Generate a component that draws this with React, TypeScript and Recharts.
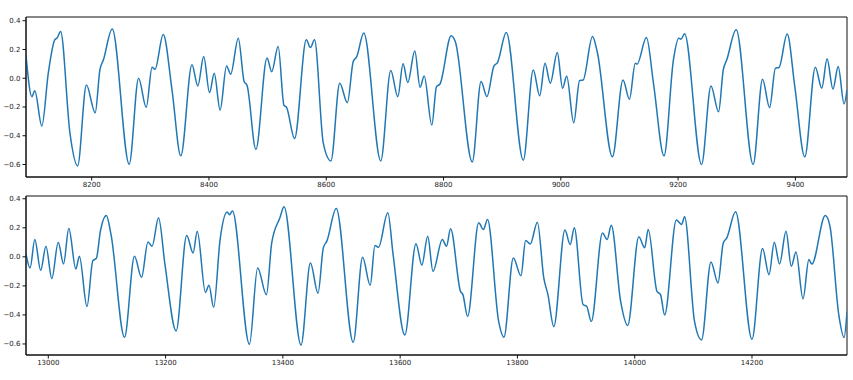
import { LineChart, Line, XAxis, YAxis, ReferenceArea } from "recharts"

// upper panel: sample index and signal value at its turning points
const topIndex = [
  8088, 8098, 8103, 8115, 8126, 8137, 8141, 8147, 8163, 8176, 8191, 8206, 8214, 8220, 8235, 8264,
  8280, 8293, 8303, 8308, 8322, 8337, 8352, 8371, 8381, 8391, 8401, 8409, 8419, 8430, 8437, 8450,
  8460, 8465, 8480, 8499, 8507, 8518, 8528, 8532, 8546, 8566, 8573, 8580, 8595, 8608, 8623, 8636,
  8646, 8652, 8664, 8693, 8710, 8722, 8731, 8739, 8751, 8760, 8767, 8780, 8788, 8794, 8813, 8820,
  8849, 8864, 8874, 8886, 8892, 8907, 8936, 8953, 8964, 8973, 8982, 8994, 9003, 9010, 9022, 9032,
  9038, 9054, 9062, 9088, 9106, 9117, 9127, 9130, 9146, 9158, 9176, 9192, 9201, 9205, 9211, 9240,
  9256, 9269, 9277, 9283, 9299, 9328, 9344, 9356, 9366, 9372, 9386, 9399, 9416, 9434, 9445, 9454,
  9464, 9473, 9483, 9488,
]
const topSignal = [
  0.16, -0.128, -0.087, -0.333, 0.035, 0.267, 0.28, 0.325, -0.384, -0.61, -0.047, -0.24, 0.058, 0.128, 0.342, -0.598,
  0.0, -0.202, 0.077, 0.062, 0.304, -0.082, -0.54, 0.093, -0.054, 0.151, -0.1, 0.035, -0.221, 0.086, 0.028, 0.279,
  -0.023, -0.05, -0.495, 0.14, 0.046, 0.22, -0.19, -0.2, -0.419, 0.267, 0.214, 0.267, -0.453, -0.575, -0.035, -0.17,
  0.116, 0.15, 0.314, -0.575, 0.053, -0.128, 0.1, -0.03, 0.19, -0.063, 0.016, -0.326, -0.058, -0.04, 0.295, 0.255,
  -0.582, -0.023, -0.128, 0.086, 0.109, 0.318, -0.57, 0.058, -0.121, 0.105, -0.035, 0.179, -0.07, 0.016, -0.31, -0.016,
  -0.012, 0.29, 0.186, -0.547, -0.012, -0.146, 0.105, 0.098, 0.283, -0.035, -0.54, 0.128, 0.279, 0.272, 0.309, -0.6,
  -0.054, -0.233, 0.058, 0.128, 0.337, -0.6, -0.007, -0.205, 0.07, 0.075, 0.307, -0.058, -0.547, 0.077, -0.07, 0.135,
  -0.075, 0.081, -0.179, -0.08,
]

// lower panel
const bottomIndex = [
  12962, 12969, 12977, 12987, 12996, 13006, 13017, 13026, 13035, 13047, 13053, 13066, 13076, 13082, 13089, 13099,
  13107, 13130, 13147, 13159, 13170, 13177, 13188, 13199, 13218, 13236, 13247, 13254, 13268, 13274, 13282, 13293,
  13305, 13309, 13314, 13343, 13357, 13372, 13381, 13395, 13402, 13431, 13447, 13460, 13469, 13475, 13491, 13520,
  13536, 13549, 13557, 13563, 13579, 13588, 13608, 13627, 13637, 13647, 13656, 13672, 13679, 13686, 13703, 13707,
  13715, 13734, 13742, 13749, 13768, 13777, 13793, 13806, 13814, 13822, 13834, 13845, 13852, 13862, 13881, 13890,
  13897, 13912, 13918, 13926, 13945, 13953, 13960, 13976, 13988, 14007, 14017, 14023, 14038, 14044, 14051, 14071,
  14080, 14085, 14102, 14114, 14130, 14142, 14151, 14157, 14172, 14200, 14218, 14229, 14238, 14247, 14258, 14267,
  14275, 14287, 14297, 14302, 14325, 14333, 14348, 14357, 14362,
]
const bottomSignal = [
  0.02, -0.077, 0.119, -0.093, 0.073, -0.15, 0.1, -0.049, 0.195, -0.084, 0.004, -0.342, -0.026, -0.01, 0.18, 0.285,
  0.153, -0.554, 0.004, -0.141, 0.103, 0.073, 0.269, -0.054, -0.51, 0.147, 0.027, 0.177, -0.245, -0.196, -0.348, 0.119,
  0.308, 0.29, 0.315, -0.602, -0.077, -0.261, 0.096, 0.27, 0.345, -0.607, -0.042, -0.25, 0.062, 0.108, 0.333, -0.588,
  -0.003, -0.196, 0.078, 0.065, 0.303, 0.015, -0.538, 0.091, -0.058, 0.142, -0.1, 0.119, 0.073, 0.193, -0.238, -0.26,
  -0.411, 0.234, 0.188, 0.257, -0.445, -0.554, -0.008, -0.13, 0.112, 0.089, 0.239, -0.146, -0.26, -0.48, 0.184, 0.084,
  0.2, -0.33, -0.34, -0.445, 0.165, 0.119, 0.218, -0.307, -0.473, 0.138, 0.062, 0.188, -0.238, -0.26, -0.4, 0.253,
  0.223, 0.276, -0.445, -0.572, -0.035, -0.18, 0.096, 0.13, 0.31, -0.568, 0.057, -0.123, 0.1, -0.049, 0.177, -0.065,
  0.034, -0.289, -0.019, -0.05, 0.285, 0.21, -0.4, -0.556, -0.376,
]

const topTicks = [8200, 8400, 8600, 8800, 9000, 9200, 9400]
const bottomTicks = [13000, 13200, 13400, 13600, 13800, 14000, 14200]
const yTicks = [-0.6, -0.4, -0.2, 0, 0.2, 0.4]

const tickStyle = { fontSize: 7, fill: "#222", fontFamily: "DejaVu Sans" }

// matplotlib writes negatives with a real minus sign
const fmtY = (v: number) => v.toFixed(1).replace("-", "\u2212")

function Panel({
  index,
  signal,
  xDomain,
  xTicks,
  yDomain,
  top,
  height,
  marginTop,
  axisHeight,
}: {
  index: number[]
  signal: number[]
  xDomain: [number, number]
  xTicks: number[]
  yDomain: [number, number]
  top: number
  height: number
  marginTop: number
  axisHeight: number
}) {
  const data = index.map((x, i) => ({ x, y: signal[i] }))
  return (
    <div style={{ position: "absolute", left: 0, top }}>
      <LineChart width={853} height={height} data={data} margin={{ top: marginTop, right: 6, bottom: 0, left: 0 }}>
        <XAxis
          dataKey="x"
          type="number"
          domain={xDomain}
          ticks={xTicks}
          allowDataOverflow
          height={axisHeight}
          tickSize={3.5}
          tick={tickStyle}
          stroke="#111"
        />
        <YAxis
          type="number"
          domain={yDomain}
          ticks={yTicks}
          allowDataOverflow
          width={26}
          tickSize={3.5}
          tick={tickStyle}
          tickFormatter={fmtY}
          stroke="#111"
        />
        {/* box around the plot, like matplotlib spines */}
        <ReferenceArea
          x1={xDomain[0]}
          x2={xDomain[1]}
          y1={yDomain[0]}
          y2={yDomain[1]}
          fill="none"
          fillOpacity={0}
          stroke="#111"
          strokeWidth={1}
          ifOverflow="visible"
        />
        <Line type="monotone" dataKey="y" stroke="#1f77b4" strokeWidth={1.5} dot={false} isAnimationActive={false} />
      </LineChart>
    </div>
  )
}

export default function App() {
  return (
    <div style={{ position: "absolute", left: 0, top: 0, width: 853, height: 380, background: "#fff" }}>
      <Panel
        index={topIndex}
        signal={topSignal}
        xDomain={[8088, 9488]}
        xTicks={topTicks}
        yDomain={[-0.687, 0.426]}
        top={0}
        height={196}
        marginTop={17}
        axisHeight={19}
      />
      <Panel
        index={bottomIndex}
        signal={bottomSignal}
        xDomain={[12962, 14362]}
        xTicks={bottomTicks}
        yDomain={[-0.676, 0.419]}
        top={186}
        height={194}
        marginTop={10}
        axisHeight={25}
      />
    </div>
  )
}
